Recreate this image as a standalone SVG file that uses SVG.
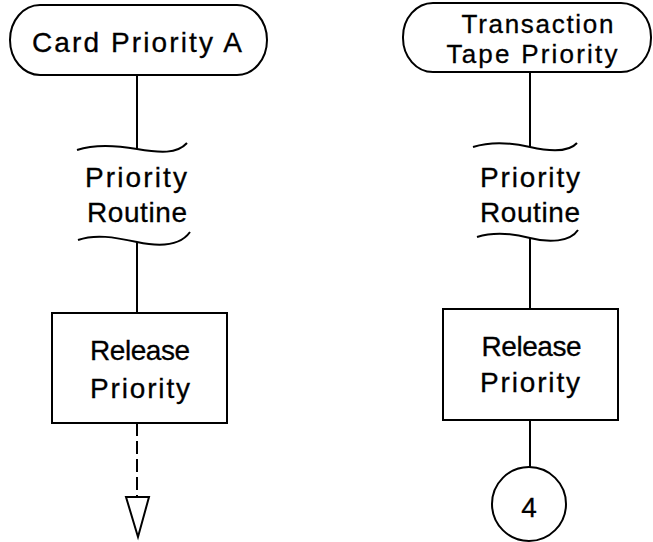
<svg xmlns="http://www.w3.org/2000/svg" width="653" height="542" viewBox="0 0 653 542">
<style>
.s{fill:none;stroke:#000;stroke-width:2}
.b{fill:#fff;stroke:#000;stroke-width:2}
text{font-family:"Liberation Sans",Arial,sans-serif;font-size:28px;fill:#000;text-anchor:middle;stroke:#000;stroke-width:0.3}
.sm{font-size:26px}
</style>
<rect width="653" height="542" fill="#fff"/>
<g id="connectors">
<line class="s" x1="137" y1="75" x2="137" y2="149"/>
<line class="s" x1="137" y1="242" x2="137" y2="313"/>
<line class="s" x1="137" y1="423" x2="137" y2="497" stroke-dasharray="13,5"/>
<polygon class="s" points="126,497 149,497 138,537"/>
<line class="s" x1="530" y1="72" x2="530" y2="147"/>
<line class="s" x1="530" y1="238" x2="530" y2="309"/>
<line class="s" x1="530" y1="420" x2="530" y2="468"/>
</g>
<g id="term-card">
<rect class="b" x="10" y="5" width="257" height="70" rx="30" ry="35"/>
<text x="137" y="52" textLength="210" lengthAdjust="spacing">Card Priority A</text>
</g>
<g id="routine-left">
<path class="s" d="M77,150 C95,144 114,145 137,149 S177,154 187,143"/>
<text x="136" y="187" textLength="102" lengthAdjust="spacing">Priority</text>
<text x="137" y="222" textLength="100" lengthAdjust="spacing">Routine</text>
<path class="s" d="M78,240 C95,234 114,237 137,242 S180,246 190,232"/>
</g>
<g id="release-left">
<rect class="b" x="52" y="313" width="175" height="110"/>
<text x="140" y="360" textLength="100" lengthAdjust="spacing">Release</text>
<text x="140" y="398" textLength="100" lengthAdjust="spacing">Priority</text>
</g>
<g id="term-tape">
<rect class="b" x="403" y="3" width="248" height="69" rx="30" ry="34"/>
<text class="sm" x="537.5" y="33" textLength="152" lengthAdjust="spacing">Transaction</text>
<text class="sm" x="532" y="63" textLength="171" lengthAdjust="spacing">Tape Priority</text>
</g>
<g id="routine-right">
<path class="s" d="M473,147 C489,142 508,142 530,147 S569,152 577,143"/>
<text x="530" y="187" textLength="100" lengthAdjust="spacing">Priority</text>
<text x="530" y="222" textLength="100" lengthAdjust="spacing">Routine</text>
<path class="s" d="M477,237 C493,232 511,233 530,238 S570,242 578,230"/>
</g>
<g id="release-right">
<rect class="b" x="443" y="309" width="175" height="111"/>
<text x="531.5" y="356" textLength="100" lengthAdjust="spacing">Release</text>
<text x="530" y="392" textLength="100" lengthAdjust="spacing">Priority</text>
</g>
<g id="connector-4">
<circle class="b" cx="529" cy="504" r="37"/>
<text x="529" y="517">4</text>
</g>
</svg>
